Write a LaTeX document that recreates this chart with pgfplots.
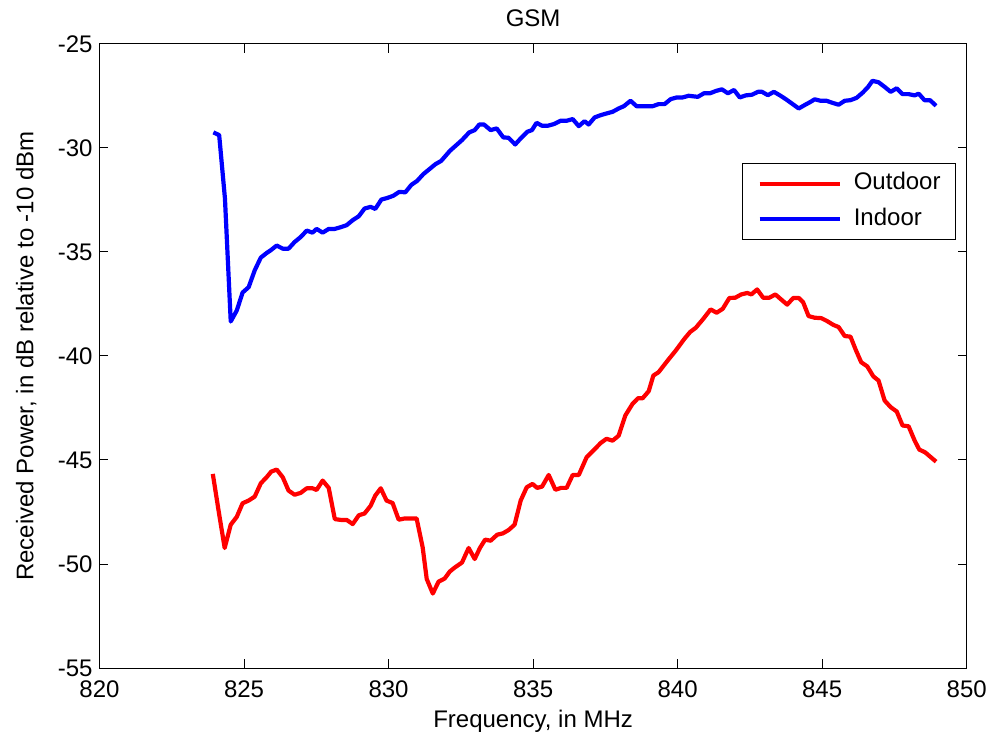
\documentclass[border=0pt]{standalone}
\usepackage{pgfplots}
\pgfplotsset{compat=1.18}
\usepackage{fontspec}
\setmainfont{Liberation Sans}

\begin{document}
\begin{tikzpicture}
% fixed page frame around the 433.6bp x 312bp plot box
\useasboundingbox (-49.75bp,-33bp) rectangle (445.25bp,334bp);
\begin{axis}[
  at={(0,0)}, anchor=south west,
  scale only axis, width=433.6bp, height=312bp,
  xmin=820, xmax=850, ymin=-55, ymax=-25,
  xtick={820,825,...,850}, ytick={-55,-50,...,-25},
  tick align=inside, major tick length=4.3bp,
  axis line style={line width=0.5bp},
  tick style={line width=0.5bp, black},
  /pgf/number format/assume math mode=true,
  /pgf/number format/1000 sep={},
  tick label style={font=\fontsize{12bp}{14bp}\selectfont},
  xticklabel style={yshift=-2.8bp},
  every axis title shift=0pt,
  title={GSM},
  title style={at={([yshift=8.65bp]axis description cs:0.5,1)}, anchor=base,
               inner sep=0pt, font=\fontsize{12bp}{14bp}\selectfont},
  xlabel={Frequency, in MHz},
  xlabel style={at={([yshift=-29.65bp]axis description cs:0.5,0)}, anchor=base,
                inner sep=0pt, font=\fontsize{12bp}{14bp}\selectfont},
  ylabel={Received Power, in dB relative to -10 dBm},
  ylabel style={at={([xshift=-33.1bp]axis description cs:0,0.5)}, anchor=base,
                inner sep=0pt, font=\fontsize{12bp}{14bp}\selectfont},
  legend cell align=left,
  legend style={at={(axis description cs:0.9877,0.8088)}, anchor=north east,
                draw=black, line width=0.5bp, fill=white,
                inner xsep=7.5bp, inner ysep=4bp,
                row sep=5.7bp, column sep=6bp,
                nodes={inner sep=0bp, text height=9bp, text depth=3bp},
                font=\fontsize{12bp}{14bp}\selectfont},
  legend image code/.code={\draw[#1] (1.5bp,0bp) -- (41.5bp,0bp);},
]
\addplot[red, line width=2.1bp, line join=round] coordinates {
(823.92,-45.67)(824.12,-47.44)(824.33,-49.23)(824.54,-48.11)(824.75,-47.73)
(824.95,-47.08)(825.16,-46.95)(825.37,-46.76)(825.58,-46.12)(825.78,-45.83)
(825.94,-45.56)(826.13,-45.46)(826.34,-45.83)(826.54,-46.47)(826.75,-46.67)
(826.96,-46.58)(827.17,-46.36)(827.37,-46.36)(827.51,-46.44)(827.72,-45.99)
(827.93,-46.34)(828.14,-47.84)(828.34,-47.88)(828.55,-47.88)(828.76,-48.08)
(828.97,-47.66)(829.17,-47.57)(829.38,-47.20)(829.54,-46.71)(829.73,-46.36)
(829.93,-46.95)(830.14,-47.07)(830.35,-47.87)(830.56,-47.81)(830.76,-47.81)
(830.97,-47.81)(831.18,-49.20)(831.32,-50.72)(831.53,-51.42)(831.73,-50.85)
(831.94,-50.70)(832.12,-50.36)(832.29,-50.17)(832.54,-49.93)(832.77,-49.23)
(832.98,-49.76)(833.16,-49.23)(833.34,-48.83)(833.53,-48.88)(833.76,-48.59)
(833.95,-48.53)(834.15,-48.37)(834.36,-48.11)(834.57,-46.95)(834.78,-46.31)
(834.98,-46.15)(835.14,-46.34)(835.31,-46.28)(835.54,-45.72)(835.77,-46.43)
(835.97,-46.34)(836.16,-46.34)(836.37,-45.72)(836.58,-45.72)(836.85,-44.87)
(837.06,-44.58)(837.34,-44.18)(837.54,-43.98)(837.75,-44.07)(837.96,-43.83)
(838.19,-42.86)(838.44,-42.30)(838.63,-42.03)(838.79,-42.03)(839.00,-41.69)
(839.16,-40.94)(839.34,-40.78)(839.66,-40.21)(839.94,-39.73)(840.22,-39.20)
(840.43,-38.85)(840.63,-38.64)(840.89,-38.21)(841.14,-37.76)(841.35,-37.92)
(841.56,-37.73)(841.79,-37.21)(841.99,-37.20)(842.20,-37.04)(842.41,-36.97)
(842.55,-37.04)(842.75,-36.80)(842.96,-37.20)(843.17,-37.20)(843.38,-37.04)
(843.58,-37.28)(843.79,-37.53)(844.00,-37.21)(844.19,-37.21)(844.34,-37.41)
(844.53,-38.08)(844.74,-38.16)(844.97,-38.18)(845.17,-38.32)(845.38,-38.50)
(845.57,-38.61)(845.78,-39.04)(845.98,-39.07)(846.17,-39.73)(846.35,-40.30)
(846.56,-40.50)(846.77,-40.98)(846.95,-41.18)(847.16,-42.14)(847.37,-42.46)
(847.58,-42.67)(847.78,-43.34)(847.99,-43.38)(848.20,-44.07)(848.36,-44.50)
(848.56,-44.63)(848.94,-45.08)
};
\addlegendentry{Outdoor}
\addplot[blue, line width=2.1bp, line join=round] coordinates {
(823.94,-29.25)(824.14,-29.38)(824.34,-32.43)(824.54,-38.34)(824.75,-37.81)
(824.95,-36.95)(825.16,-36.69)(825.37,-35.88)(825.58,-35.27)(825.78,-35.05)
(825.92,-34.92)(826.13,-34.69)(826.34,-34.84)(826.54,-34.84)(826.75,-34.52)
(826.96,-34.28)(827.17,-33.97)(827.37,-34.07)(827.51,-33.89)(827.72,-34.07)
(827.93,-33.89)(828.14,-33.89)(828.34,-33.81)(828.55,-33.71)(828.76,-33.47)
(828.97,-33.28)(829.17,-32.91)(829.38,-32.83)(829.54,-32.93)(829.75,-32.48)
(829.96,-32.40)(830.16,-32.30)(830.37,-32.11)(830.58,-32.13)(830.79,-31.77)
(830.99,-31.58)(831.20,-31.26)(831.41,-31.02)(831.62,-30.78)(831.82,-30.62)
(832.12,-30.14)(832.54,-29.62)(832.79,-29.25)(832.98,-29.14)(833.14,-28.87)
(833.30,-28.87)(833.53,-29.14)(833.74,-29.06)(833.97,-29.49)(834.15,-29.51)
(834.38,-29.83)(834.59,-29.51)(834.80,-29.22)(834.96,-29.14)(835.12,-28.79)
(835.31,-28.93)(835.51,-28.93)(835.72,-28.85)(835.95,-28.69)(836.16,-28.69)
(836.37,-28.61)(836.58,-28.95)(836.78,-28.71)(836.92,-28.87)(837.13,-28.53)
(837.34,-28.42)(837.54,-28.34)(837.75,-28.26)(837.96,-28.10)(838.14,-27.99)
(838.37,-27.73)(838.58,-27.99)(838.79,-27.99)(839.14,-27.99)(839.34,-27.89)
(839.55,-27.89)(839.76,-27.65)(839.97,-27.57)(840.17,-27.57)(840.38,-27.49)
(840.70,-27.54)(840.91,-27.37)(841.12,-27.37)(841.32,-27.26)(841.53,-27.18)
(841.74,-27.37)(841.95,-27.21)(842.15,-27.57)(842.36,-27.47)(842.57,-27.44)
(842.78,-27.30)(842.92,-27.30)(843.12,-27.46)(843.33,-27.30)(843.54,-27.47)
(843.75,-27.66)(843.95,-27.86)(844.19,-28.10)(844.39,-27.94)(844.60,-27.78)
(844.74,-27.66)(844.95,-27.73)(845.15,-27.73)(845.36,-27.83)(845.57,-27.92)
(845.78,-27.73)(845.98,-27.70)(846.19,-27.59)(846.40,-27.34)(846.58,-27.08)
(846.74,-26.77)(846.95,-26.84)(847.16,-27.06)(847.37,-27.30)(847.58,-27.13)
(847.78,-27.41)(847.99,-27.41)(848.20,-27.47)(848.34,-27.39)(848.54,-27.70)
(848.73,-27.70)(848.94,-27.97)
};
\addlegendentry{Indoor}
\end{axis}
\end{tikzpicture}
\end{document}
